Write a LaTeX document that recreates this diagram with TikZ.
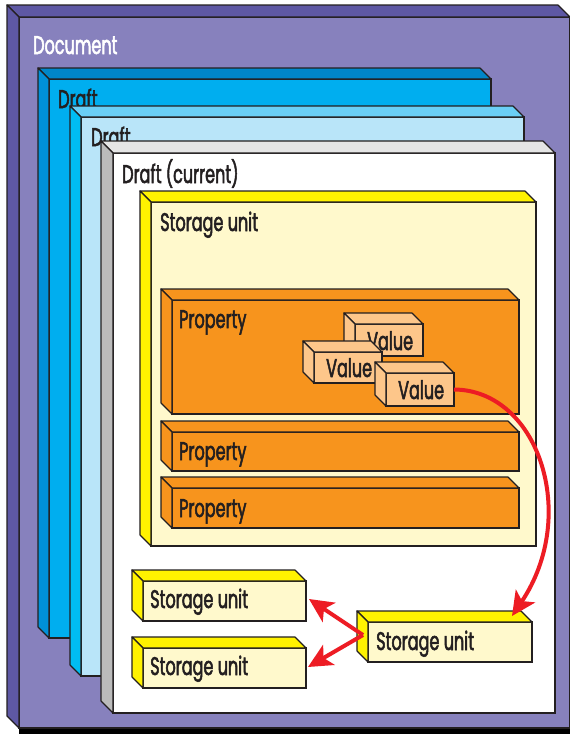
\documentclass[tikz,border=0pt]{standalone}
\usepackage{fontspec}
\setmainfont{Poppins}[FakeStretch=0.63,FakeBold=2]
\usetikzlibrary{arrows.meta,calc}

\definecolor{docfront}{HTML}{8781BD}
\definecolor{docdark}{HTML}{5E58A4}
\definecolor{draftAfront}{HTML}{00AEEF}
\definecolor{draftAtop}{HTML}{0086C8}
\definecolor{draftAside}{HTML}{0090D8}
\definecolor{draftBfront}{HTML}{B9E5F9}
\definecolor{draftBtop}{HTML}{6ACFF6}
\definecolor{draftBside}{HTML}{00BDF2}
\definecolor{curtop}{HTML}{E5E5E5}
\definecolor{curside}{HTML}{BBBBBB}
\definecolor{sufront}{HTML}{FFF9CC}
\definecolor{suedge}{HTML}{FFF200}
\definecolor{propfill}{HTML}{F7941D}
\definecolor{valfill}{HTML}{FDC68A}
\definecolor{linkred}{HTML}{ED1C24}
\definecolor{inkdark}{HTML}{231F20}

\tikzset{
  slabface/.style={draw=inkdark, line width=1.2pt, inner sep=0pt, outer sep=0pt, rectangle},
  slabedge/.style={draw=inkdark, line width=1.2pt, line join=round},
  lbl/.style={anchor=base west, inner sep=0pt, text=inkdark, font=\fontsize{25.5}{27}\selectfont},
  redarrow/.style={draw=linkred, line width=4pt, -{Stealth[length=24pt,width=23pt,inset=6pt]}}
}

% #1 name, #2 #3 front top-left, #4 #5 front bottom-right, #6 depth,
% #7 front colour, #8 top colour, #9 side colour
\newcommand\slabbox[9]{%
  \node[slabface, fill=#7, minimum width={(#4-#2)*1pt}, minimum height={(#5-#3)*1pt},
        anchor=north west] (#1) at (#2,#3) {};
  \filldraw[slabedge, fill=#8] (#1.north west) -- ++(-#6,-#6)
     -- ($(#1.north east)+(-#6,-#6)$) -- (#1.north east) -- cycle;
  \filldraw[slabedge, fill=#9] (#1.north west) -- ++(-#6,-#6)
     -- ($(#1.south west)+(-#6,-#6)$) -- (#1.south west) -- cycle;
}

\begin{document}
\begin{tikzpicture}[x=1pt,y=-1pt]
\useasboundingbox (0,0) rectangle (570,734);
\fill[white] (0,0) rectangle (570,734);

% document
\fill[black] (19,726) rectangle (570,734);
\slabbox{doc}{19}{17}{570}{728}{12}{docfront}{docdark}{docdark}
\node[lbl, text=white] (docLbl) at (33,54) {Document};

% older drafts
\slabbox{draftA}{49}{79}{491}{638}{11}{draftAfront}{draftAtop}{draftAside}
\node[lbl] (draftALbl) at (58,108) {Draft};
\slabbox{draftB}{81}{117}{524}{676}{11}{draftBfront}{draftBtop}{draftBside}
\node[lbl] (draftBLbl) at (91,146) {Draft};

% current draft
\slabbox{cur}{113}{153}{555}{713}{12}{white}{curtop}{curside}
\node[lbl] (curLbl) at (122,183) {Draft (current)};

% main storage unit
\slabbox{su}{151}{202}{536}{546}{11}{sufront}{suedge}{suedge}
\node[lbl] (suLbl) at (160,231) {Storage unit};

% properties
\slabbox{propA}{172}{300}{519}{414}{11}{propfill}{propfill}{propfill}
\node[lbl] (propALbl) at (179,328) {Property};
\slabbox{propB}{172}{432}{519}{471}{11}{propfill}{propfill}{propfill}
\node[lbl] (propBLbl) at (179,460) {Property};
\slabbox{propC}{172}{488}{519}{528}{11}{propfill}{propfill}{propfill}
\node[lbl] (propCLbl) at (179,517) {Property};

% values
\slabbox{valA}{355}{324}{423}{356}{11}{valfill}{valfill}{valfill}
\node[lbl] (valALbl) at (367,350) {Value};
\slabbox{valB}{314}{352}{382}{383}{11}{valfill}{valfill}{valfill}
\node[lbl] (valBLbl) at (326,377) {Value};
\slabbox{valC}{386}{373}{454}{406}{11}{valfill}{valfill}{valfill}
\node[lbl] (valCLbl) at (398,399) {Value};

% referenced storage units
\slabbox{suA}{143}{581}{306}{621}{11}{sufront}{suedge}{suedge}
\node[lbl] (suALbl) at (150,608) {Storage unit};
\slabbox{suB}{143}{648}{306}{688}{11}{sufront}{suedge}{suedge}
\node[lbl] (suBLbl) at (150,675) {Storage unit};
\slabbox{suC}{368}{622}{532}{662}{11}{sufront}{suedge}{suedge}
\node[lbl] (suCLbl) at (376,650) {Storage unit};

% references
\coordinate (suCtip) at ($(suC.north east)+(-20,-6)$);
\coordinate (suCsrc) at ($(suC.west)+(-5,-7)$);
\coordinate (suAtip) at ($(suA.east)+(3,-2)$);
\coordinate (suBtip) at ($(suB.east)+(2,-1)$);
\draw[redarrow] (valC.east) .. controls (538,390) and (580,515) .. (suCtip);
\draw[redarrow] (suCsrc) -- (suAtip);
\draw[redarrow] (suCsrc) -- (suBtip);
\end{tikzpicture}
\end{document}
